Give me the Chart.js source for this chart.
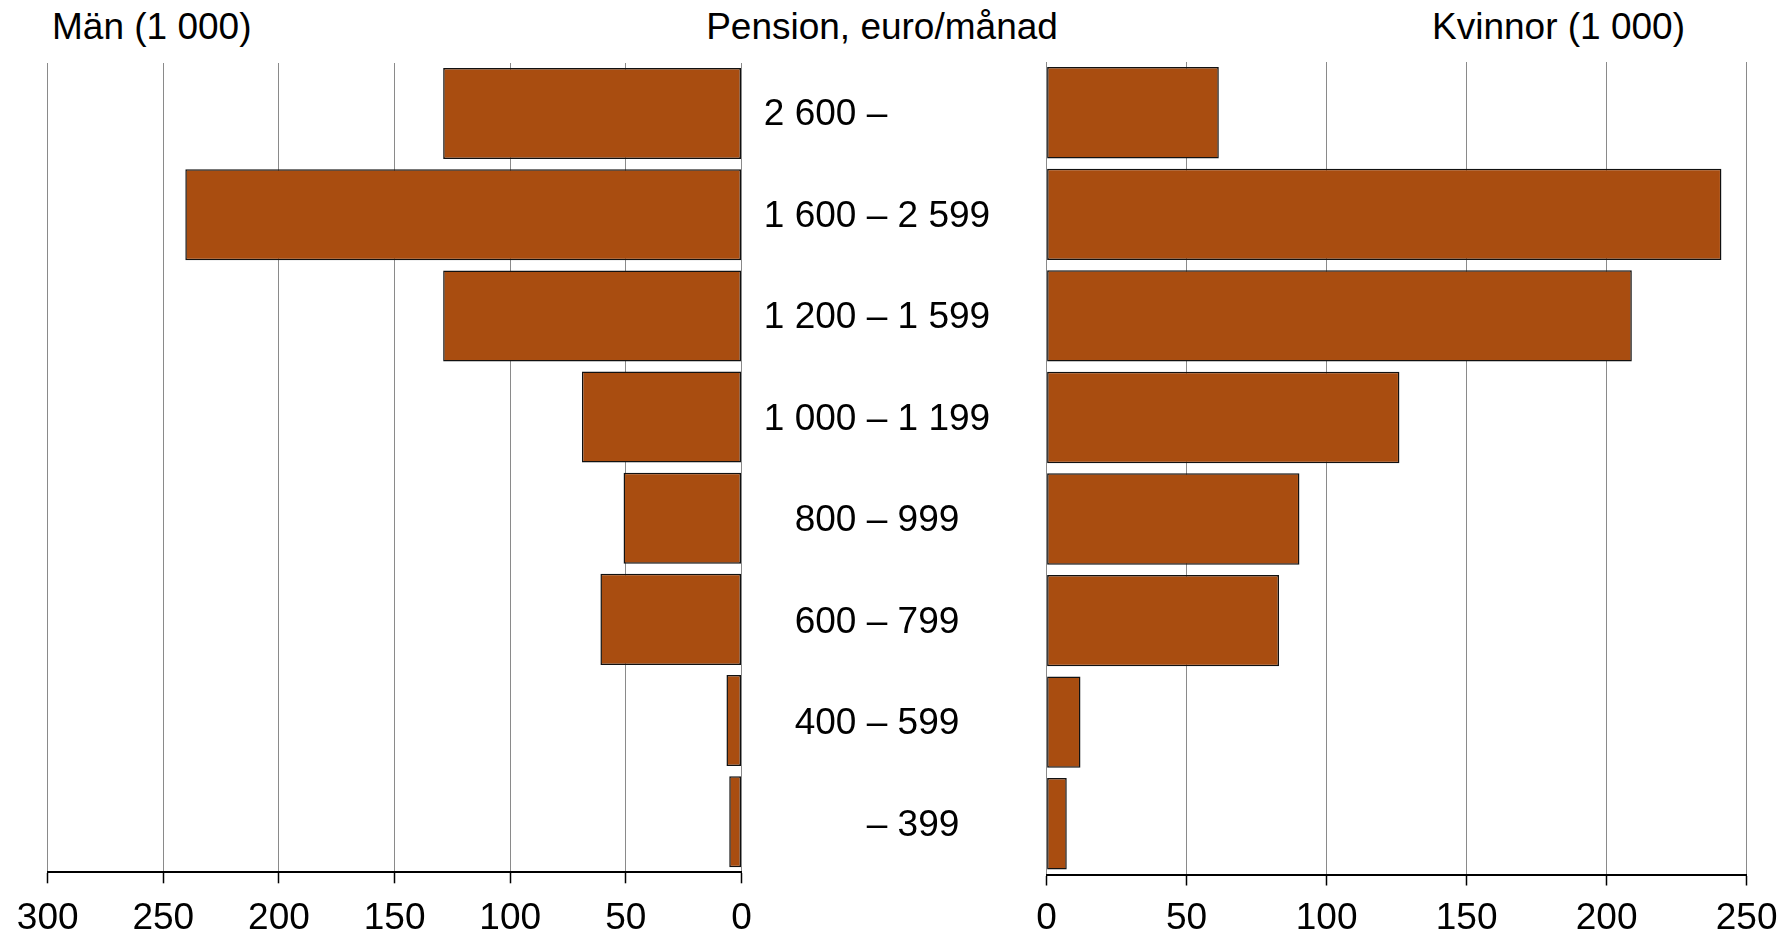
<!DOCTYPE html>
<html>
<head>
<meta charset="utf-8">
<script src="https://cdn.jsdelivr.net/npm/chart.js@4.4.1/dist/chart.umd.min.js"></script>
<style>
  html, body { margin: 0; padding: 0; background: #fff; width: 1789px; height: 936px; overflow: hidden; }
  body { position: relative; font-family: "Liberation Sans", Arial, sans-serif; }
  canvas { position: absolute; top: 0; }
  #cLeft { left: 0; }
  #cRight { left: 745px; }
  .hdr { position: absolute; top: 8px; font-size: 37px; line-height: 1; color: #000; white-space: nowrap; }
</style>
</head>
<body>
<div class="hdr" style="left:52px">Män (1 000)</div>
<div class="hdr" style="left:882px; transform: translateX(-50%)">Pension, euro/månad</div>
<div class="hdr" style="left:1432px">Kvinnor (1 000)</div>
<canvas id="cLeft" width="770" height="936"></canvas>
<canvas id="cRight" width="1044" height="936"></canvas>
<script>
// ---- data ----
const categories = ["2 600 –", "1 600 – 2 599", "1 200 – 1 599", "1 000 – 1 199", "800 – 999", "600 – 799", "400 – 599", "– 399"];
const menValues = [129, 240.5, 129, 69, 51, 61, 6.5, 5.3];
const womenValues = [61.5, 241, 209, 126, 90.3, 83, 12.1, 7.2];
const menTicks = [0, 50, 100, 150, 200, 250, 300];
const womenTicks = [0, 50, 100, 150, 200, 250];

const FONT = '"Liberation Sans", Arial, sans-serif';
const BAR = '#A94D10';
const BORDER = '#111111';
const GRID = '#8a8a8a';

function xScale(min, max, ticksArr, reverse, axisH, pad) {
  return {
    type: 'linear', min: min, max: max, reverse: reverse,
    afterBuildTicks: (s) => { s.ticks = ticksArr.map(v => ({ value: v })); },
    afterFit: (s) => { s.height = axisH; },
    grid: { color: GRID, lineWidth: 1, drawTicks: true, tickLength: 11, tickColor: '#000', tickWidth: 1.5 },
    border: { display: true, color: '#000', width: 2 },
    ticks: { color: '#000', font: { family: FONT, size: 37 }, padding: pad, maxRotation: 0, autoSkip: false }
  };
}

const yScale = { type: 'category', display: false, offset: true };

function barDataset(vals) {
  return {
    data: vals, backgroundColor: BAR, borderColor: BORDER, borderWidth: 1.5, borderSkipped: false,
    barPercentage: 0.9, categoryPercentage: 1.0
  };
}

new Chart(document.getElementById('cLeft'), {
  type: 'bar',
  data: { labels: categories, datasets: [barDataset(menValues)] },
  options: {
    indexAxis: 'y', responsive: false, animation: false, devicePixelRatio: 1,
    layout: { padding: { left: 47.7, right: 770 - 741.5, top: 63, bottom: 0 } },
    plugins: { legend: { display: false }, tooltip: { enabled: false }, title: { display: false } },
    scales: { x: xScale(0, 300, menTicks, true, 936 - 872.3, 13), y: yScale }
  }
});

const centerLabels = {
  id: 'centerLabels',
  afterDraw(chart) {
    const ctx = chart.ctx;
    const y = chart.scales.y;
    const dashX = 877 - 745;
    ctx.save();
    ctx.font = '37px ' + FONT;
    ctx.fillStyle = '#000';
    ctx.textBaseline = 'middle';
    categories.forEach((lab, i) => {
      const py = y.getPixelForValue(i) + 2;
      const parts = lab.split('–');
      const dw = ctx.measureText('–').width;
      ctx.textAlign = 'center';
      ctx.fillText('–', dashX, py);
      ctx.textAlign = 'right';
      if (parts[0]) ctx.fillText(parts[0], dashX - dw / 2, py);
      ctx.textAlign = 'left';
      if (parts[1]) ctx.fillText(parts[1], dashX + dw / 2, py);
    });
    ctx.restore();
  }
};

new Chart(document.getElementById('cRight'), {
  type: 'bar',
  data: { labels: categories, datasets: [barDataset(womenValues)] },
  options: {
    indexAxis: 'y', responsive: false, animation: false, devicePixelRatio: 1,
    layout: { padding: { left: 1046.6 - 745, right: 1789 - 1751.5, top: 62, bottom: 0 } },
    plugins: { legend: { display: false }, tooltip: { enabled: false }, title: { display: false } },
    scales: { x: xScale(0, 250, womenTicks, false, 936 - 874.5, 11.5), y: yScale }
  },
  plugins: [centerLabels]
});
</script>
</body>
</html>
